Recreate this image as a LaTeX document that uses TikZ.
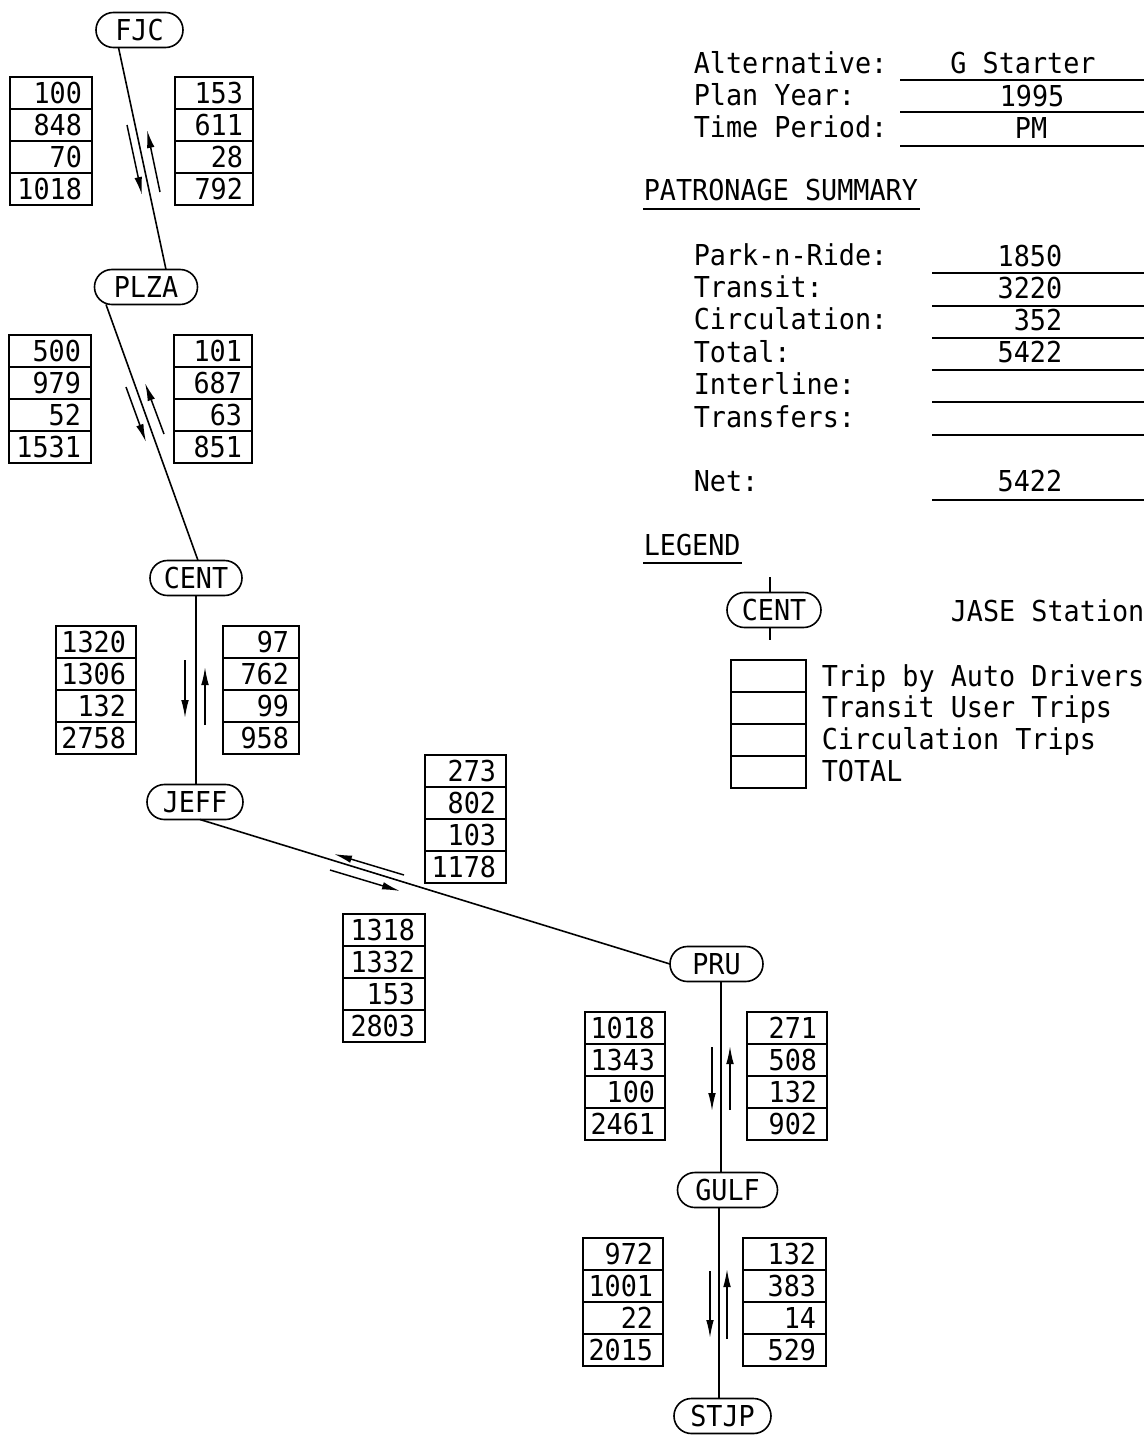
\documentclass[tikz,border=0pt]{standalone}
\usepackage{fontspec}
\setmainfont{DejaVu Sans Mono}[FakeStretch=0.93]
\usetikzlibrary{arrows.meta,calc}
\newcommand\tripbox[7]{%
  \node[cell, anchor=north west] (#1a) at #2 {\makebox[\dimexpr#3pt\relax][r]{#4\hspace{5pt}}};
  \node[cell, anchor=north west] (#1b) at (#1a.south west) {\makebox[\dimexpr#3pt\relax][r]{#5\hspace{5pt}}};
  \node[cell, anchor=north west] (#1c) at (#1b.south west) {\makebox[\dimexpr#3pt\relax][r]{#6\hspace{5pt}}};
  \node[cell, anchor=north west] (#1d) at (#1c.south west) {\makebox[\dimexpr#3pt\relax][r]{#7\hspace{5pt}}};
}
\begin{document}
\begin{tikzpicture}[x=0.5pt,y=-0.5pt, line width=0.8pt,
  every node/.style={font=\fontsize{14.4}{16}\selectfont, inner sep=0pt},
  cell/.style={draw, line width=0.7pt, outer sep=0pt, minimum height=16pt, text height=10.5pt, text depth=0pt},
  station/.style={draw, line width=0.8pt, outer sep=0pt, rounded corners=8.7pt, minimum height=17.5pt, text height=10.5pt, text depth=0pt},
  arr/.style={-{Latex[length=9pt,width=3.8pt]}, line width=0.75pt},
  lbl/.style={anchor=base west},
  val/.style={anchor=base},
  rval/.style={anchor=base east},
  uline/.style={line width=1pt}]
\useasboundingbox (0,0) rectangle (1144,1436);

% stations
\node[station, minimum width=43.5pt] (FJC) at (139.5,30) {FJC};
\node[station, minimum width=51.5pt] (PLZA) at (146,287) {PLZA};
\node[station, minimum width=46pt] (CENT) at (196,578) {CENT};
\node[station, minimum width=48pt] (JEFF) at (195,802) {JEFF};
\node[station, minimum width=46.5pt] (PRU) at (716.5,964) {PRU};
\node[station, minimum width=50pt] (GULF) at (727.5,1190) {GULF};
\node[station, minimum width=48.5pt] (STJP) at (722.5,1416) {STJP};

% connectors
\draw ($(FJC.south)+(-21,0)$) -- ($(PLZA.north)+(20,0)$);
\draw ($(PLZA.south)+(-40,0)$) -- ($(CENT.north)+(2,0)$);
\draw (CENT.south) -- (CENT.south |- JEFF.north);
\draw ($(JEFF.south)+(5,0)$) -- (PRU.west);
\coordinate (p1) at ($(PRU.south)+(4.5,0)$);
\draw (p1) -- (p1 |- GULF.north);
\coordinate (g1) at ($(GULF.south)+(-8.5,0)$);
\draw (g1) -- (g1 |- STJP.north);

% direction arrows
\draw[arr] (127,125) -- (142,195);
\draw[arr] (160,192) -- (147,130);
\draw[arr] (126,387) -- (146,442);
\draw[arr] (164,434) -- (145,383);
\draw[arr] (185,660) -- (185,718);
\draw[arr] (205,725) -- (205,667);
\draw[arr] (404,875) -- (334,854);
\draw[arr] (330,870) -- (400,891);
\draw[arr] (712,1047) -- (712,1111);
\draw[arr] (730,1110) -- (730,1046);
\draw[arr] (710,1271) -- (710,1338);
\draw[arr] (727,1339) -- (727,1269);

% trip boxes
\tripbox{b1}{(10,77)}{41}{100}{848}{70}{1018}
\tripbox{b2}{(175,77)}{39}{153}{611}{28}{792}
\tripbox{b3}{(9,335)}{41}{500}{979}{52}{1531}
\tripbox{b4}{(174,335)}{39}{101}{687}{63}{851}
\tripbox{b5}{(56,626)}{40}{1320}{1306}{132}{2758}
\tripbox{b6}{(223,626)}{38}{97}{762}{99}{958}
\tripbox{b7}{(425,755)}{40.5}{273}{802}{103}{1178}
\tripbox{b8}{(343,914)}{41}{1318}{1332}{153}{2803}
\tripbox{b9}{(585,1012)}{40}{1018}{1343}{100}{2461}
\tripbox{b10}{(747,1012)}{40}{271}{508}{132}{902}
\tripbox{b11}{(583,1238)}{40}{972}{1001}{22}{2015}
\tripbox{b12}{(743,1238)}{41.5}{132}{383}{14}{529}

% header
\node[lbl] (alt) at (693,73) {Alternative:};
\node[val] (altv) at (1023,73) {G Starter};
\draw[uline] (900,80) -- (1144,80);
\node[lbl] (plan) at (693,105) {Plan Year:};
\node[val] (planv) at (1032,106) {1995};
\draw[uline] (900,112) -- (1144,112);
\node[lbl] (time) at (693,137) {Time Period:};
\node[val] (timev) at (1031,138) {PM};
\draw[uline] (900,146) -- (1144,146);

% patronage summary
\node[lbl] (pat) at (643,200) {PATRONAGE SUMMARY};
\draw[uline] (643,209) -- (920,209);
\node[lbl] (pnr) at (693,265) {Park-n-Ride:};
\node[rval] (pnrv) at (1063,266) {1850};
\draw[uline] (932,273) -- (1144,273);
\node[lbl] (tra) at (693,297) {Transit:};
\node[rval] (trav) at (1063,298) {3220};
\draw[uline] (932,306) -- (1144,306);
\node[lbl] (cir) at (693,329) {Circulation:};
\node[rval] (cirv) at (1063,330) {352};
\draw[uline] (932,338) -- (1144,338);
\node[lbl] (tot) at (693,362) {Total:};
\node[rval] (totv) at (1063,362) {5422};
\draw[uline] (932,370) -- (1144,370);
\node[lbl] (int) at (693,394) {Interline:};
\draw[uline] (932,402) -- (1144,402);
\node[lbl] (trf) at (693,427) {Transfers:};
\draw[uline] (932,435) -- (1144,435);
\node[lbl] (net) at (693,491) {Net:};
\node[rval] (netv) at (1063,491) {5422};
\draw[uline] (932,500) -- (1144,500);

% legend
\node[lbl] (leg) at (643,555) {LEGEND};
\draw[uline] (643,563) -- (742,563);
\node[station, minimum width=47pt] (legCENT) at (774,610) {CENT};
\draw ($(legCENT.north)+(-4,0)$) -- ++(0,-16);
\draw ($(legCENT.south)+(-4,0)$) -- ++(0,12);
\node[lbl] (jase) at (950,621) {JASE Station};
\tripbox{leg}{(731,660)}{37.5}{}{}{}{}
\node[lbl] (l1) at (821,686) {Trip by Auto Drivers};
\node[lbl] (l2) at (821,717) {Transit User Trips};
\node[lbl] (l3) at (821,749) {Circulation Trips};
\node[lbl] (l4) at (821,781) {TOTAL};
\end{tikzpicture}
\end{document}
